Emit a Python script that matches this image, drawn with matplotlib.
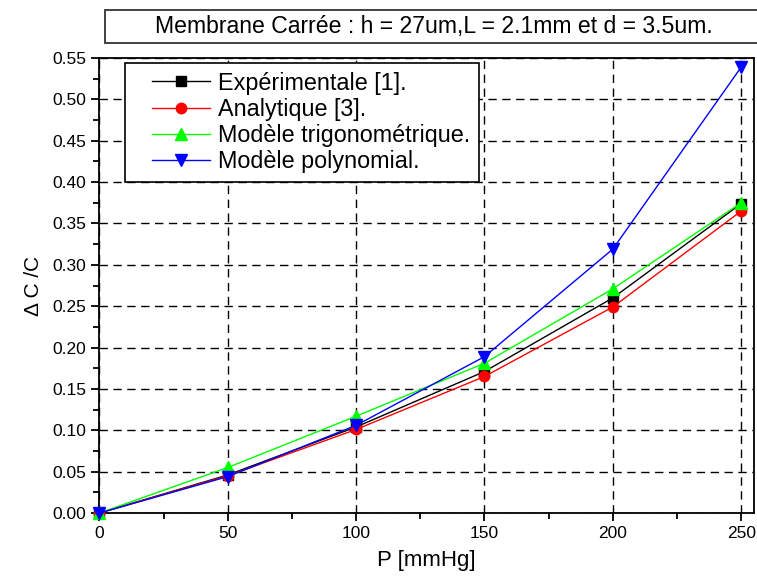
import matplotlib.pyplot as plt
from matplotlib.lines import Line2D
from matplotlib.legend_handler import HandlerLine2D
from matplotlib.patches import Rectangle
from matplotlib.ticker import MultipleLocator

plt.rcParams['font.family'] = ['Liberation Sans', 'DejaVu Sans']

pression = [0, 50, 100, 150, 200, 250]
experimentale = [0.0, 0.046, 0.104, 0.171, 0.260, 0.374]
analytique = [0.0, 0.045, 0.101, 0.165, 0.249, 0.365]
trigonometrique = [0.0, 0.055, 0.117, 0.181, 0.271, 0.375]
polynomial = [0.0, 0.044, 0.106, 0.189, 0.319, 0.539]

series = [
    ('Expérimentale [1].', experimentale, 'black', 's', 6.8),
    ('Analytique [3].', analytique, 'red', 'o', 7.5),
    ('Modèle trigonométrique.', trigonometrique, '#00ff00', '^', 8),
    ('Modèle polynomial.', polynomial, 'blue', 'v', 8),
]

fig = plt.figure(figsize=(7.57, 5.82), dpi=100)
ax = fig.add_axes([99.5 / 757, 0.1186, 654.5 / 757, 0.7817])

for label, values, color, marker, size in series:
    ax.plot(pression, values, color=color, marker=marker, markersize=size,
            linewidth=1, label=label, clip_on=False, zorder=3)

ax.set_xlim(0, 255)
ax.set_ylim(0, 0.55)
ax.xaxis.set_major_locator(MultipleLocator(50))
ax.xaxis.set_minor_locator(MultipleLocator(25))
ax.yaxis.set_major_locator(MultipleLocator(0.05))
ax.yaxis.set_minor_locator(MultipleLocator(0.025))
ax.yaxis.set_major_formatter(plt.FormatStrFormatter('%.2f'))

ax.grid(True, which='major', color='black', linestyle=(0, (6, 4)), linewidth=1)
ax.tick_params(which='both', direction='out', labelsize=12.5, width=1.3,
               top=False, right=False)
ax.tick_params(which='major', length=6)
ax.tick_params(which='minor', length=4)
for spine in ax.spines.values():
    spine.set_linewidth(1.3)

ax.set_xlabel('P [mmHg]', fontsize=16, labelpad=6)
ax.set_ylabel('Δ C /C', fontsize=15, labelpad=7)

leg = ax.legend(loc='upper left', bbox_to_anchor=(25.5 / 654.5, 0.989), borderaxespad=0,
                fontsize=16.8, handlelength=3.28, handletextpad=0.34,
                labelspacing=0.14, borderpad=0.37, fancybox=False, framealpha=1,
                edgecolor='black',
                handler_map={Line2D: HandlerLine2D(xpad=0.8)})
leg.get_frame().set_linewidth(1.2)

fig.patches.append(Rectangle((105 / 757, 1 - 43 / 582), 660 / 757, 33 / 582,
                             transform=fig.transFigure, facecolor='white',
                             edgecolor='#333333', linewidth=1.3))
fig.text(434 / 757, 1 - 26.5 / 582, 'Membrane Carrée : h = 27um,L = 2.1mm et d = 3.5um.',
         ha='center', va='center', fontsize=16.6)

fig.savefig('out.png', dpi=100)
